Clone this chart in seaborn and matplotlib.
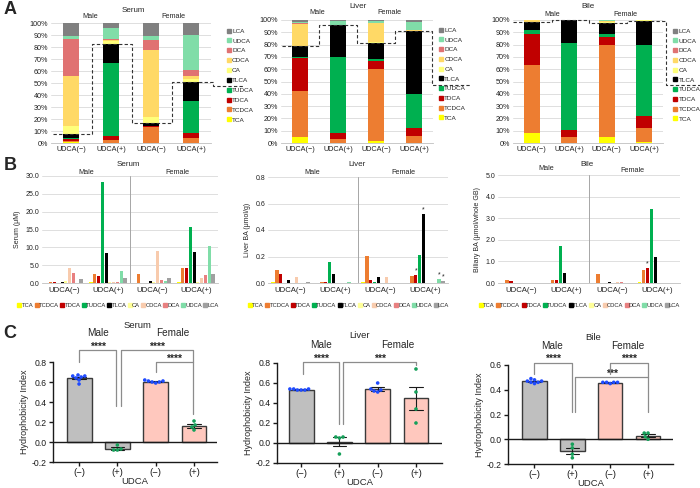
import numpy as np
import pandas as pd
import matplotlib
matplotlib.use("Agg")
import matplotlib.pyplot as plt
import seaborn as sns
from matplotlib.lines import Line2D

W, H = 700, 488

# ---------------- data ----------------
species = ["TCA", "TCDCA", "TDCA", "TUDCA", "TLCA", "CA", "CDCA", "DCA", "UDCA", "LCA"]
cats = ["UDCA(−)", "UDCA(+)", "UDCA(−)", "UDCA(+)"]

colors_A = ["#FFFF00", "#ED7D31", "#C00000", "#00B050", "#000000",
            "#FFFF7A", "#FFD966", "#E07272", "#80DDA8", "#808080"]
colors_B = ["#FFFF00", "#ED7D31", "#C00000", "#00B050", "#000000",
            "#FFFF99", "#F8CBAD", "#E88080", "#80DDA8", "#A0A0A0"]

# Panel A: composition (%) per bar (Male -, Male +, Female -, Female +)
serum_pct = [
    [0.5, 1.5, 1.0, 1.5, 3.0, 7.0, 41.0, 31.5, 2.2, 10.8],
    [0.3, 2.2, 3.0, 61.0, 15.3, 2.5, 0.8, 1.0, 9.0, 4.5],
    [0.2, 12.8, 1.0, 0.3, 2.7, 4.9, 55.3, 8.3, 3.4, 11.1],
    [0.3, 3.9, 4.1, 26.7, 16.1, 2.0, 2.5, 5.6, 28.9, 10.0],
]
liver_pct = [
    [4.9, 37.0, 27.4, 0.8, 8.3, 0.3, 18.0, 0.2, 1.5, 1.3],
    [0.3, 3.0, 4.9, 61.7, 26.0, 0.2, 0.2, 0.1, 3.2, 0.5],
    [1.9, 58.4, 6.3, 1.3, 13.7, 0.3, 15.4, 0.2, 1.4, 1.1],
    [0.3, 5.7, 6.3, 27.4, 51.3, 0.2, 0.3, 0.1, 7.0, 1.4],
]
bile_pct = [
    [7.8, 55.7, 25.4, 2.7, 6.5, 0.6, 1.0, 0.0, 0.0, 0.3],
    [0.3, 4.8, 5.4, 71.1, 18.2, 0.0, 0.1, 0.0, 0.0, 0.1],
    [4.6, 74.9, 6.7, 3.0, 8.6, 0.5, 1.2, 0.2, 0.2, 0.3],
    [0.8, 11.1, 10.3, 57.5, 19.8, 0.1, 0.2, 0.0, 0.0, 0.2],
]

# Panel B: concentrations per group
serum_conc = [
    [0.1, 0.3, 0.3, 0.1, 0.3, 0.5, 4.3, 2.9, 0.1, 1.1],
    [0.3, 2.4, 2.1, 28.2, 8.4, 0.3, 0.2, 0.3, 3.4, 1.5],
    [0.1, 2.6, 0.1, 0.1, 0.6, 0.4, 9.1, 0.9, 0.5, 1.5],
    [0.4, 4.2, 4.2, 15.7, 8.8, 0.4, 1.3, 2.3, 10.4, 2.5],
]
liver_conc = [
    [0.01, 0.095, 0.07, 0.002, 0.02, 0.0, 0.045, 0.0, 0.0, 0.004],
    [0.0, 0.01, 0.01, 0.155, 0.065, 0.0, 0.0, 0.0, 0.008, 0.0],
    [0.01, 0.205, 0.02, 0.005, 0.045, 0.0, 0.045, 0.0, 0.0, 0.003],
    [0.0, 0.055, 0.06, 0.21, 0.52, 0.0, 0.0, 0.0, 0.03, 0.015],
]
bile_conc = [
    [0.02, 0.15, 0.10, 0.0, 0.02, 0.0, 0.02, 0.02, 0.0, 0.0],
    [0.0, 0.13, 0.15, 1.70, 0.47, 0.0, 0.0, 0.0, 0.0, 0.0],
    [0.02, 0.40, 0.02, 0.02, 0.05, 0.0, 0.05, 0.05, 0.0, 0.0],
    [0.03, 0.62, 0.68, 3.42, 1.22, 0.0, 0.0, 0.0, 0.0, 0.0],
]
liver_star_species = ["TDCA", "TLCA", "UDCA", "LCA"]
bile_star_species = ["TDCA"]

# Panel C: hydrophobicity index, individual animals
groups_C = ["M-", "M+", "F-", "F+"]
serum_hi = [[0.65, 0.67, 0.66, 0.58, 0.64, 0.66, 0.62],
            [-0.03, -0.08, -0.08, -0.07],
            [0.61, 0.62, 0.60, 0.59, 0.61, 0.60],
            [0.21, 0.17, 0.15, 0.12]]
liver_hi = [[0.54, 0.53, 0.54, 0.53, 0.54, 0.53],
            [0.06, 0.05, 0.06, -0.11],
            [0.60, 0.52, 0.54, 0.53, 0.51],
            [0.74, 0.51, 0.34, 0.20]]
bile_hi = [[0.47, 0.48, 0.46, 0.47, 0.49, 0.45, 0.46],
           [-0.04, -0.07, -0.12, -0.15],
           [0.46, 0.46, 0.45, 0.46, 0.46],
           [0.05, 0.02, 0.05, 0.00]]

# ---------------- style ----------------
sns.set_theme(style="white")
plt.rcParams["font.family"] = ["Liberation Sans", "DejaVu Sans"]

fig = plt.figure(figsize=(7, 4.88), dpi=100)


def add_ax(x0, y0, x1, y1):
    return fig.add_axes([x0 / W, 1 - y1 / H, (x1 - x0) / W, (y1 - y0) / H])


def ftext(x, y, s, **kw):
    ha = kw.pop("ha", "center")
    va = kw.pop("va", "center")
    fig.text(x / W, 1 - y / H, s, ha=ha, va=va, **kw)


# ---------------- Panel A ----------------
def panel_A(ax, pct, dash, leg_x, leg_top, leg_pitch_px, ax_h_px):
    pct = np.array(pct, dtype=float)
    pct = pct / pct.sum(axis=1, keepdims=True) * 100
    x = np.arange(4)
    bottoms = np.zeros(4)
    for j in range(len(species)):
        ax.bar(x, pct[:, j], bottom=bottoms, width=0.42, color=colors_A[j],
               linewidth=0, zorder=3)
        bottoms += pct[:, j]
    ax.set_xlim(-0.5, 3.5)
    ax.set_ylim(0, 100)
    ax.set_yticks(range(0, 101, 10))
    ax.set_yticklabels([f"{v}%" for v in range(0, 101, 10)])
    ax.set_xticks(x)
    ax.set_xticklabels(cats)
    ax.grid(axis="y", color="#d9d9d9", lw=0.6)
    ax.set_axisbelow(True)
    for s in ["top", "right", "left"]:
        ax.spines[s].set_visible(False)
    ax.spines["bottom"].set_color("#bfbfbf")
    ax.spines["bottom"].set_linewidth(0.6)
    ax.tick_params(length=0, labelsize=5.2, pad=2, colors="#222222")

    # dashed separator between conjugated and unconjugated
    tb = pct[:, :5].sum(axis=1)
    start, step, last, leg_end, sep = dash
    xs, ys = [start], [tb[0]]
    for i in range(4):
        xe = last if i == 3 else i + step
        xs.append(xe); ys.append(tb[i])
        if i < 3:
            xs.append(xe); ys.append(tb[i + 1])
    xs += [last, leg_end]
    ys += [sep, sep]
    ax.plot(xs, ys, ls=(0, (3, 2)), color="#333333", lw=0.8, clip_on=False, zorder=6)

    fs = 4.6
    fs_px = fs * 100 / 72
    text_h = 1.16 * fs_px
    lsp = (leg_pitch_px - text_h) / fs_px
    handles = [Line2D([], [], marker="s", ls="", color=colors_A[j], markersize=2.6)
               for j in range(10)][::-1]
    ax.legend(handles, species[::-1], loc="upper left",
              bbox_to_anchor=(leg_x, leg_top + (text_h / 2) / ax_h_px),
              frameon=False, fontsize=fs, handlelength=0.6, handletextpad=0.2,
              labelspacing=lsp, borderpad=0, borderaxespad=0)


axA1 = add_ax(51, 23, 211, 143)
panel_A(axA1, serum_pct, (-0.45, 0.52, 3.55, 4.3, 47.5), 1.10, 0.925, 11.8, 120)
axA2 = add_ax(281, 20, 433, 143)
panel_A(axA2, liver_pct, (-0.47, 0.50, 3.47, 4.5, 47.5), 1.04, 0.91, 11.7, 123)
axA3 = add_ax(513, 20, 663, 143)
panel_A(axA3, bile_pct, (-0.50, 0.53, 3.59, 4.5, 47.5), 1.07, 0.902, 11.7, 123)

ftext(10, 9, "A", fontsize=13, fontweight="bold")
ftext(133, 11, "Serum", fontsize=5.8)
ftext(90, 17, "Male", fontsize=5.2)
ftext(173, 17, "Female", fontsize=5.2)
ftext(358, 6, "Liver", fontsize=5.8)
ftext(317, 13, "Male", fontsize=5.2)
ftext(389, 13, "Female", fontsize=5.2)
ftext(588, 6, "Bile", fontsize=5.8)
ftext(552, 14, "Male", fontsize=5.2)
ftext(625, 14, "Female", fontsize=5.2)


# ---------------- Panel B ----------------
def panel_B(ax, conc, ymax, ystep, fmt, ylabel, star_species, leg_cx, leg_cy):
    rows = [(g, species[j], conc[g][j]) for g in range(4) for j in range(10)]
    df = pd.DataFrame(rows, columns=["grp", "species", "val"])
    sns.barplot(data=df, x="grp", y="val", hue="species", hue_order=species,
                palette=colors_B, width=0.86, gap=0.18, errorbar=None,
                saturation=1, linewidth=0, legend=False, ax=ax, zorder=3)
    ax.set_xlim(-0.5, 3.5)
    ax.set_ylim(0, ymax)
    ticks = np.arange(0, ymax + ystep / 2, ystep)
    ax.set_yticks(ticks)
    ax.set_yticklabels([fmt.format(t) for t in ticks])
    ax.set_xticks(range(4))
    ax.set_xticklabels(cats)
    ax.set_xlabel("")
    ax.set_ylabel(ylabel, fontsize=5, labelpad=3)
    ax.grid(axis="y", color="#d9d9d9", lw=0.6)
    ax.set_axisbelow(True)
    for s in ["top", "right", "left"]:
        ax.spines[s].set_visible(False)
    ax.spines["bottom"].set_color("#bfbfbf")
    ax.spines["bottom"].set_linewidth(0.6)
    ax.tick_params(length=0, labelsize=5.0, pad=2, colors="#222222")
    ax.tick_params(axis="x", labelsize=5.6, pad=3)
    ax.axvline(1.5, color="#a6a6a6", lw=0.7, zorder=2)
    # significance stars above selected bars in group 3 (Female UDCA(+))
    for sp in star_species:
        j = species.index(sp)
        target = 3 - 0.43 + 0.086 * (j + 0.5)
        best = min(ax.patches, key=lambda p: abs(p.get_x() + p.get_width() / 2 - target))
        ax.text(best.get_x() + best.get_width() / 2, best.get_height() + ymax * 0.005, "*",
                ha="center", va="bottom", fontsize=5, color="#222222")
    handles = [Line2D([], [], marker="s", ls="", color=colors_B[j], markersize=2.3)
               for j in range(10)]
    ax.legend(handles, species, ncol=10, loc="center", bbox_to_anchor=(leg_cx, leg_cy),
              frameon=False, fontsize=4.2, handlelength=0.4, handletextpad=0.2,
              columnspacing=0.35, borderpad=0, borderaxespad=0)


axB1 = add_ax(42, 176, 218, 283)
panel_B(axB1, serum_conc, 30, 5, "{:.1f}", "Serum (μM)", [], 0.435, -0.206)
axB2 = add_ax(268, 177, 448, 283)
panel_B(axB2, liver_conc, 0.8, 0.2, "{:.1f}", "Liver BA (μmol/g)", liver_star_species, 0.45, -0.21)
axB3 = add_ax(498, 175, 680, 283)
panel_B(axB3, bile_conc, 5, 1, "{:.1f}", "Biliary BA (μmol/whole GB)", bile_star_species, 0.45, -0.204)

ftext(10, 165, "B", fontsize=13, fontweight="bold")
ftext(128, 165, "Serum", fontsize=5.8)
ftext(86, 173, "Male", fontsize=5.2)
ftext(177, 172, "Female", fontsize=5.2)
ftext(357, 165, "Liver", fontsize=5.8)
ftext(312, 172, "Male", fontsize=5.2)
ftext(403, 172, "Female", fontsize=5.2)
ftext(587, 165, "Bile", fontsize=5.8)
ftext(546, 169, "Male", fontsize=5.2)
ftext(632, 170, "Female", fontsize=5.2)

# ---------------- Panel C ----------------
gray_c, pink_c = "#BFBFBF", "#FFC8BE"
blue_c, green_c = "#1F4BFF", "#16A05A"
bracket_c = "#8C8C8C"


def panel_C(ax, hi, ylim, yticks, xlim, brackets):
    rows = []
    for g, pts in zip(groups_C, hi):
        for v in pts:
            rows.append((g, v, "neg" if g.endswith("-") else "pos"))
    df = pd.DataFrame(rows, columns=["grp", "val", "trt"])
    sns.barplot(data=df, x="grp", y="val", order=groups_C, hue="grp", hue_order=groups_C,
                palette=[gray_c, gray_c, pink_c, pink_c], errorbar="se", capsize=0.35,
                err_kws={"color": "k", "linewidth": 0.8}, edgecolor="#3a3a3a",
                linewidth=1.0, width=0.65, saturation=1, legend=False, ax=ax, zorder=2)
    sns.swarmplot(data=df, x="grp", y="val", order=groups_C, hue="trt",
                  palette={"neg": blue_c, "pos": green_c}, size=2.6, legend=False,
                  ax=ax, zorder=4)
    ax.axhline(0, color="k", lw=1.0, zorder=3)
    ax.set_xlim(*xlim)
    ax.set_ylim(*ylim)
    ax.set_yticks(yticks)
    ax.set_yticklabels([f"{t:.1f}" for t in yticks])
    ax.set_xticks(range(4))
    ax.set_xticklabels(["(−)", "(+)", "(−)", "(+)"])
    ax.set_xlabel("UDCA", fontsize=6.8, labelpad=0)
    ax.set_ylabel("Hydrophobicity Index", fontsize=6.5, labelpad=2)
    for s in ["top", "right"]:
        ax.spines[s].set_visible(False)
    for s in ["left", "bottom"]:
        ax.spines[s].set_color("k")
        ax.spines[s].set_linewidth(1.0)
    ax.spines["left"].set_bounds(ylim[0], ylim[1])
    ax.tick_params(axis="both", direction="out", length=3, width=1, colors="k",
                   labelsize=6.2, pad=1.5, left=True, bottom=True)
    ax.tick_params(axis="x", labelsize=6.8, pad=1)
    for (x0, x1, y, y0low, y1low, txt) in brackets:
        ax.plot([x0, x0, x1, x1], [y0low, y, y, y1low], color=bracket_c, lw=0.9,
                clip_on=False, zorder=5)
        ax.text((x0 + x1) / 2, y + 0.004 * (ylim[1] - ylim[0]), txt, ha="center",
                va="baseline", fontsize=7.5, fontweight="bold", clip_on=False)


axC1 = add_ax(53, 362, 217, 462)
panel_C(axC1, serum_hi, (-0.2, 0.8), [-0.2, 0.0, 0.2, 0.4, 0.6, 0.8], (-0.68, 3.6),
        [(0.0, 0.97, 0.92, 0.80, 0.36, "****"),
         (1.1, 2.97, 0.92, 0.36, 0.80, "****"),
         (2.0, 2.97, 0.80, 0.70, 0.28, "****")])
axC2 = add_ax(277, 363, 442, 463)
panel_C(axC2, liver_hi, (-0.2, 0.8), [-0.2, 0.0, 0.2, 0.4, 0.6, 0.8], (-0.63, 3.68),
        [(0.05, 1.0, 0.81, 0.69, 0.19, "****"),
         (1.1, 3.0, 0.81, 0.19, 0.78, "***")])
axC3 = add_ax(508, 365, 673, 464)
panel_C(axC3, bile_hi, (-0.2, 0.6), [-0.2, 0.0, 0.2, 0.4, 0.6], (-0.7, 3.66),
        [(0.0, 0.98, 0.62, 0.53, 0.22, "****"),
         (2.0, 3.0, 0.62, 0.53, 0.50, "****"),
         (1.08, 3.0, 0.50, 0.22, 0.22, "***")])

ftext(10, 333, "C", fontsize=13, fontweight="bold")
ftext(137, 326, "Serum", fontsize=6.8)
ftext(98, 333, "Male", fontsize=7.2)
ftext(173, 333, "Female", fontsize=7.2)
ftext(359, 335, "Liver", fontsize=6.8)
ftext(321, 345, "Male", fontsize=7.2)
ftext(398, 345, "Female", fontsize=7.2)
ftext(593, 337, "Bile", fontsize=6.8)
ftext(552, 346, "Male", fontsize=7.2)
ftext(628, 346, "Female", fontsize=7.2)

fig.savefig("out.png", dpi=100)
